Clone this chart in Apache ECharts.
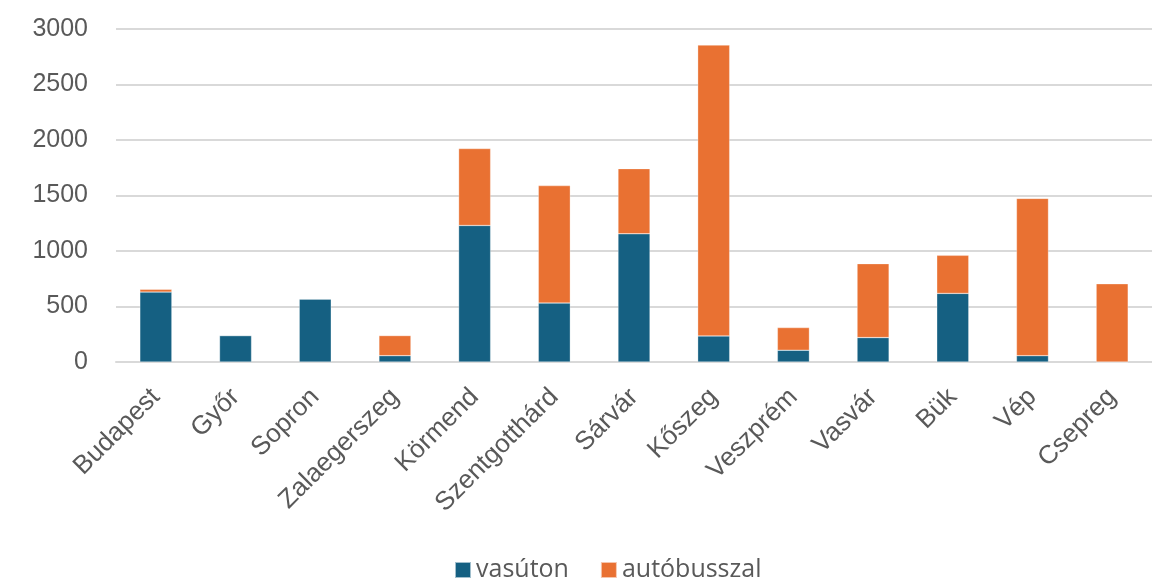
<!DOCTYPE html>
<html>
<head>
<meta charset="utf-8">
<script src="https://cdn.jsdelivr.net/npm/echarts@6/dist/echarts.min.js"></script>
<style>
  html, body { margin: 0; padding: 0; background: #fff; }
  #main { width: 1152px; height: 583px; }
</style>
</head>
<body>
<div id="main"></div>
<script>
var towns = ['Budapest', 'Győr', 'Sopron', 'Zalaegerszeg', 'Körmend', 'Szentgotthárd',
  'Sárvár', 'Kőszeg', 'Veszprém', 'Vasvár', 'Bük', 'Vép', 'Csepreg'];
var vasuton = [630, 238, 567, 57, 1230, 531, 1155, 235, 106, 220, 618, 57, 0];
var autobusszal = [25, 0, 0, 181, 693, 1058, 587, 2620, 204, 666, 343, 1417, 705];
var yTicks = [0, 500, 1000, 1500, 2000, 2500, 3000];

var chart = echarts.init(document.getElementById('main'));
var option = {
  animation: false,
  grid: { left: 116, width: 1040, top: 29, bottom: 221 },
  legend: {
    top: 550,
    left: 449,
    itemWidth: 16,
    itemHeight: 16,
    itemGap: 31,
    icon: 'rect',
    textStyle: { fontFamily: '"Open Sans", sans-serif', fontSize: 25, lineHeight: 30, color: '#595959' },
    data: ['vasúton', 'autóbusszal']
  },
  xAxis: {
    type: 'category',
    data: towns,
    axisLine: { lineStyle: { color: '#d9d9d9', width: 2 } },
    axisTick: { show: false },
    axisLabel: {
      rotate: 45,
      interval: 0,
      margin: 31,
      fontFamily: '"Liberation Sans", Arial, sans-serif',
      fontSize: 26,
      color: '#595959'
    }
  },
  yAxis: {
    type: 'value',
    min: yTicks[0],
    max: yTicks[yTicks.length - 1],
    interval: 500,
    axisLine: { show: false },
    axisTick: { show: false },
    splitLine: { lineStyle: { color: '#d9d9d9', width: 2 } },
    axisLabel: {
      margin: 28,
      formatter: function (v) { return String(v); },
      fontFamily: '"Liberation Sans", Arial, sans-serif',
      fontSize: 25,
      color: '#595959'
    }
  },
  series: [
    {
      name: 'vasúton',
      type: 'bar',
      stack: 'total',
      barWidth: 32,
      itemStyle: { color: '#156082', borderColor: 'rgba(255,255,255,0.6)', borderWidth: 0.5 },
      data: vasuton
    },
    {
      name: 'autóbusszal',
      type: 'bar',
      stack: 'total',
      barWidth: 32,
      itemStyle: { color: '#E97132', borderColor: 'rgba(255,255,255,0.6)', borderWidth: 0.5 },
      data: autobusszal
    }
  ]
};
chart.setOption(option);
</script>
</body>
</html>
